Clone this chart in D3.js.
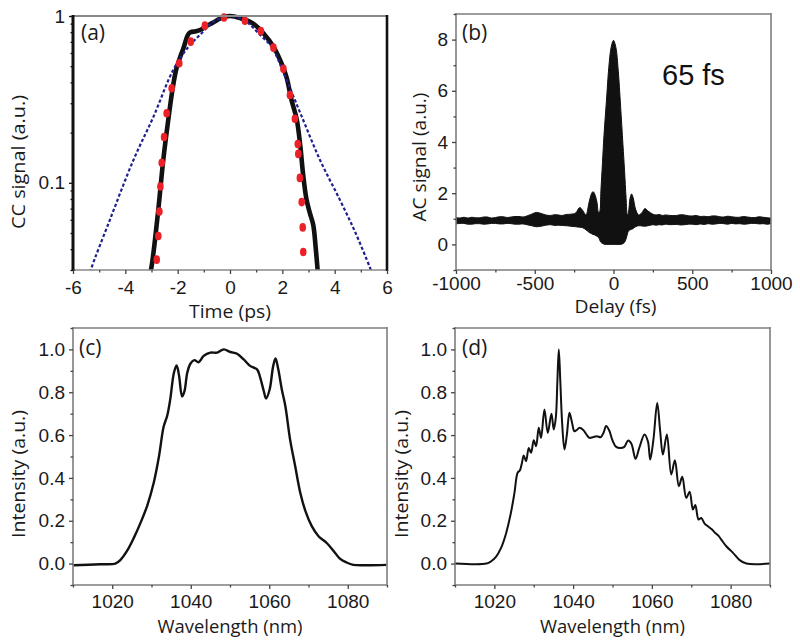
<!DOCTYPE html>
<html><head><meta charset="utf-8">
<script src="https://cdn.jsdelivr.net/npm/d3@7"></script>
<style>
html,body{margin:0;padding:0;background:#fff;}
svg{display:block;}
.title{font-family:"Open Sans",sans-serif;font-size:19px;fill:#1a1a1a;}
.plabel{font-family:"Open Sans",sans-serif;font-size:21px;fill:#1a1a1a;}
</style>
</head><body>
<svg id="chart" width="800" height="644"></svg>
<script>
// ---------- Panel (a): cross-correlation (log scale) ----------
const ccTime = [-3.12,-2.99,-2.87,-2.74,-2.55,-2.36,-2.2,-2.06,-1.9,-1.78,-1.68,-1.6,-1.5,-1.3,-1.1,-0.9,-0.66,-0.35,0,0.4,0.89,1.3,1.66,1.97,2.16,2.35,2.55,2.68,2.8,2.92,3.05,3.18,3.28,3.38];
const ccSignal = [0.025,0.032,0.045,0.069,0.137,0.238,0.36,0.475,0.57,0.64,0.72,0.775,0.8,0.81,0.83,0.87,0.91,0.97,1.0,0.97,0.9,0.78,0.655,0.52,0.43,0.314,0.24,0.17,0.11,0.08,0.066,0.056,0.04,0.026];
const dotTime = [-2.80,-2.74,-2.70,-2.66,-2.61,-2.52,-2.42,-2.23,-1.94,-1.50,-0.96,-0.23,0.57,1.18,1.66,2.04,2.29,2.48,2.59,2.61,2.67,2.74,2.78,2.80];
const dotSignal = [0.0346,0.048,0.0673,0.095,0.132,0.188,0.261,0.369,0.521,0.702,0.875,0.98,0.937,0.813,0.646,0.482,0.336,0.242,0.171,0.149,0.107,0.0766,0.054,0.0385];
const fitTime = [-5.4,-5.29,-4.59,-3.69,-2.92,-2.17,-1.6,-1.15,-0.6,0,0.6,1.15,1.6,2.03,2.74,3.44,4.2,4.8,5.35,5.5];
const fitSignal = [0.027,0.031,0.06,0.137,0.25,0.475,0.65,0.77,0.93,1.0,0.93,0.77,0.65,0.463,0.25,0.137,0.079,0.05,0.031,0.027];
const aXTicks = [-6,-4,-2,0,2,4,6];
const aYTicks = [0.1,1];

// ---------- Panel (b): autocorrelation ----------
const acDelay = [-1000,-975,-950,-925,-900,-875,-850,-825,-800,-775,-750,-725,-700,-675,-650,-625,-600,-575,-550,-520,-490,-460,-430,-400,-375,-350,-325,-300,-270,-240,-215,-195,-175,-155,-140,-130,-120,-105,-95,-88,-80,-70,-60,-45,-30,-15,0,15,30,45,60,70,80,88,95,105,115,125,140,160,180,200,220,250,270,290,310,330,360,400,425,450,475,500,525,550,575,600,625,650,675,700,725,750,775,800,825,850,875,900,925,950,975,1000];
const acUpper = [1.05,1.03,1.06,1.03,1.06,1.04,1.04,1.07,1.07,1.03,1.05,1.08,1.08,1.05,1.07,1.09,1.09,1.07,1.11,1.18,1.25,1.21,1.15,1.13,1.16,1.15,1.13,1.17,1.18,1.23,1.44,1.32,1.15,1.65,1.98,2.06,1.98,1.65,1.25,1.28,2.1,3.2,4.3,5.6,6.9,7.7,7.97,7.7,6.8,5.4,3.9,2.9,1.8,1.15,1.25,1.8,1.97,1.82,1.38,1.15,1.24,1.4,1.3,1.18,1.15,1.17,1.13,1.15,1.13,1.13,1.16,1.15,1.12,1.11,1.13,1.09,1.1,1.08,1.11,1.11,1.08,1.07,1.1,1.08,1.06,1.06,1.09,1.07,1.05,1.05,1.08,1.06,1.04,1.03];
const acLower = [0.8,0.82,0.82,0.79,0.79,0.81,0.81,0.79,0.8,0.82,0.82,0.8,0.8,0.82,0.81,0.79,0.79,0.8,0.77,0.73,0.69,0.71,0.75,0.77,0.74,0.75,0.74,0.73,0.71,0.69,0.67,0.65,0.57,0.47,0.42,0.39,0.37,0.32,0.27,0.18,0.08,0.04,0.01,0.0,0.0,0.0,0.0,0.0,0.0,0.0,0.03,0.08,0.22,0.4,0.52,0.57,0.59,0.62,0.69,0.73,0.72,0.71,0.73,0.77,0.75,0.77,0.76,0.79,0.77,0.78,0.76,0.77,0.79,0.79,0.77,0.8,0.78,0.81,0.79,0.8,0.82,0.81,0.79,0.82,0.8,0.81,0.79,0.8,0.82,0.82,0.8,0.81,0.79,0.81];
const bXTicks = [-1000,-500,0,500,1000];
const bYTicks = [0,2,4,6,8];

// ---------- Panel (c): spectrum ----------
const specCWl = [1010.1,1017,1020.8,1022.1,1023.8,1025.5,1027.2,1028.9,1030.6,1031.9,1033.1,1034,1034.8,1035.7,1036.4,1037,1037.8,1038.4,1039.1,1039.9,1040.9,1042,1043.3,1045,1046.7,1048.4,1050.1,1051.8,1053.5,1055.2,1056.9,1057.7,1058.6,1059.2,1060.1,1061,1061.6,1062.3,1063.2,1064.1,1065.3,1066.6,1067.9,1069.2,1070.8,1072.5,1074.7,1076.4,1078,1079.7,1081.4,1084.8,1089.9];
const specCInt = [-0.008,-0.003,0.0,0.017,0.06,0.12,0.19,0.27,0.38,0.5,0.64,0.69,0.77,0.89,0.925,0.88,0.78,0.805,0.89,0.933,0.95,0.94,0.97,0.985,0.985,1.0,0.988,0.98,0.953,0.922,0.907,0.868,0.806,0.771,0.813,0.922,0.958,0.907,0.813,0.736,0.58,0.456,0.331,0.246,0.176,0.129,0.095,0.059,0.023,0.005,-0.006,-0.008,-0.006];

// ---------- Panel (d): spectrum ----------
const specDWl = [1010,1018,1019.2,1020.4,1021.7,1023,1024.2,1025.1,1025.9,1026.5,1027,1027.46,1028.05,1028.73,1029.32,1030.0,1030.59,1031.27,1031.86,1032.71,1033.56,1034.49,1035.08,1035.6,1036.0,1036.36,1036.75,1037.2,1037.8,1038.4,1039.07,1039.7,1040.34,1041.0,1041.61,1042.5,1043.5,1044.15,1045.0,1046.0,1047.0,1047.7,1048.39,1049.2,1050.0,1050.93,1052.0,1053.0,1053.98,1054.8,1055.85,1056.8,1058.14,1059.0,1059.58,1060.4,1061.36,1062.1,1062.8,1063.81,1064.92,1065.85,1066.86,1067.71,1068.73,1069.58,1070.42,1071.02,1071.86,1072.54,1073.39,1074.24,1075.2,1076.1,1077.0,1077.63,1078.9,1080.6,1082.3,1084,1090];
const specDInt = [0,0,0.011,0.031,0.073,0.143,0.237,0.33,0.424,0.436,0.47,0.505,0.478,0.54,0.517,0.576,0.548,0.634,0.587,0.72,0.61,0.70,0.626,0.68,0.85,1.0,0.85,0.66,0.533,0.6,0.704,0.66,0.618,0.625,0.634,0.625,0.60,0.587,0.59,0.595,0.59,0.61,0.642,0.62,0.575,0.545,0.54,0.545,0.575,0.56,0.489,0.54,0.603,0.57,0.486,0.58,0.75,0.62,0.509,0.603,0.416,0.483,0.361,0.405,0.307,0.335,0.252,0.274,0.206,0.213,0.187,0.174,0.16,0.143,0.128,0.112,0.081,0.05,0.016,0,0];
const cdXTicks = [1020,1040,1060,1080];
const cdYTicks = [0,0.2,0.4,0.6,0.8,1.0];

const svg = d3.select("#chart");
const FRAME = "#7d7d7d", TICK = "#444";
const intFmt = d => String(d);

function clip(id, x0, x1, y0, y1){
  svg.append("clipPath").attr("id", id).append("rect")
    .attr("x", x0).attr("y", y0).attr("width", x1 - x0).attr("height", y1 - y0);
}
function styleAxis(g, col){
  g.select(".domain").remove();
  g.selectAll(".tick line").attr("stroke", col).attr("stroke-width", 1.3);
  g.selectAll(".tick text")
    .style("font-family", '"Liberation Sans", Arial, sans-serif')
    .style("font-size", "19px")
    .style("fill", "#1a1a1a");
}
function frame(x0,x1,y0,y1,opt){
  const o = Object.assign({left:FRAME,right:FRAME,top:FRAME,bottom:FRAME,lw:1.6,rw:1.6,tw:1.6,bw:1.6}, opt||{});
  svg.append("line").attr("x1",x0).attr("x2",x1).attr("y1",y0).attr("y2",y0).attr("stroke",o.top).attr("stroke-width",o.tw);
  svg.append("line").attr("x1",x0).attr("x2",x1).attr("y1",y1).attr("y2",y1).attr("stroke",o.bottom).attr("stroke-width",o.bw);
  svg.append("line").attr("x1",x0).attr("x2",x0).attr("y1",y0-1).attr("y2",y1+1).attr("stroke",o.left).attr("stroke-width",o.lw);
  svg.append("line").attr("x1",x1).attr("x2",x1).attr("y1",y0-1).attr("y2",y1+1).attr("stroke",o.right).attr("stroke-width",o.rw);
}
function linearAxes(x, y, xT, xMinor, yT, yMinor, x0, x1, y0, y1, xFmt, yFmt, xPad){
  const gx = svg.append("g").attr("transform", `translate(0,${y1})`)
    .call(d3.axisBottom(x).tickValues(xT).tickSize(4).tickPadding(xPad).tickFormat(xFmt));
  styleAxis(gx, TICK);
  const gxm = svg.append("g").attr("transform", `translate(0,${y1})`)
    .call(d3.axisBottom(x).tickValues(xMinor).tickSize(2.5).tickFormat(""));
  styleAxis(gxm, TICK);
  const gy = svg.append("g").attr("transform", `translate(${x0},0)`)
    .call(d3.axisLeft(y).tickValues(yT).tickSize(4).tickPadding(4).tickFormat(yFmt));
  styleAxis(gy, TICK);
  const gym = svg.append("g").attr("transform", `translate(${x0},0)`)
    .call(d3.axisLeft(y).tickValues(yMinor).tickSize(2.5).tickFormat(""));
  styleAxis(gym, TICK);
}
function title(txt, x, y, rot, len){
  const t = svg.append("text").attr("class","title").attr("text-anchor","middle").text(txt)
    .attr("textLength", len).attr("lengthAdjust","spacingAndGlyphs");
  if (rot) t.attr("transform", `translate(${x},${y}) rotate(-90)`);
  else t.attr("x", x).attr("y", y);
}
function plabel(txt, x, y){
  svg.append("text").attr("class","plabel").attr("x",x).attr("y",y).text(txt);
}

// ===== Panel (a) =====
{
  const x0=73,x1=387,y0=16,y1=270;
  const x = d3.scaleLinear().domain([-6,6]).range([x0,x1]);
  const y = d3.scaleLog().domain([0.03,1]).range([y1,y0]);
  clip("ca", x0, x1, y0-6, y1);
  const g = svg.append("g").attr("clip-path","url(#ca)");
  const fit = fitTime.map((t,i)=>[t,fitSignal[i]]);
  const cc = ccTime.map((t,i)=>[t,ccSignal[i]]);
  g.append("path").datum(cc).attr("fill","none").attr("stroke","#111").attr("stroke-width",4.6)
    .attr("stroke-linejoin","round")
    .attr("d", d3.line().x(d=>x(d[0])).y(d=>y(d[1])).curve(d3.curveCatmullRom));
  g.append("path").datum(fit).attr("fill","none").attr("stroke","#1f1f8f").attr("stroke-width",2.2)
    .attr("stroke-dasharray","3.2,2.2")
    .attr("d", d3.line().x(d=>x(d[0])).y(d=>y(d[1])).curve(d3.curveCatmullRom));
  g.selectAll("ellipse").data(dotTime.map((t,i)=>[t,dotSignal[i]])).join("ellipse")
    .attr("cx", d=>x(d[0])).attr("cy", d=>y(d[1])).attr("rx",3.3).attr("ry",4.3).attr("fill","#ec2027");
  frame(x0,x1,y0,y1,{left:"#111",lw:3,right:"#111",rw:2.6,top:"#8a8a8a",tw:2,bottom:"#8a8a8a",bw:1.6});
  const gx = svg.append("g").attr("transform",`translate(0,${y1})`)
    .call(d3.axisBottom(x).tickValues(aXTicks).tickSize(4).tickPadding(7).tickFormat(intFmt));
  styleAxis(gx, TICK);
  const gxm = svg.append("g").attr("transform",`translate(0,${y1})`)
    .call(d3.axisBottom(x).tickValues([-5,-3,-1,1,3,5]).tickSize(2.5).tickFormat(""));
  styleAxis(gxm, TICK);
  const gy = svg.append("g").attr("transform",`translate(${x0},0)`)
    .call(d3.axisLeft(y).tickValues(aYTicks).tickSize(4).tickPadding(4).tickFormat(d=> d===1?"1":"0.1"));
  styleAxis(gy, "#111");
  const minor = [0.03,0.04,0.05,0.06,0.07,0.08,0.09,0.2,0.3,0.4,0.5,0.6,0.7,0.8,0.9];
  const gym = svg.append("g").attr("transform",`translate(${x0},0)`)
    .call(d3.axisLeft(y).tickValues(minor).tickSize(2.5).tickFormat(""));
  styleAxis(gym, "#111");
  title("CC signal (a.u.)", 25, 162, true, 134);
  title("Time (ps)", (x0+x1)/2, 318, false, 82);
  plabel("(a)", 81, 40);
}

// ===== Panel (b) =====
{
  const x0=456,x1=771,y0=14,y1=270;
  const x = d3.scaleLinear().domain([-1000,1000]).range([x0,x1]);
  const y = d3.scaleLinear().domain([-1,9]).range([y1,y0]);
  clip("cb", x0, x1, y0, y1);
  const g = svg.append("g").attr("clip-path","url(#cb)");
  const data = acDelay.map((d,i)=>({d, u:acUpper[i], l:acLower[i]}));
  g.append("path").datum(data).attr("fill","#111").attr("stroke","#111").attr("stroke-width",1)
    .attr("d", d3.area().x(p=>x(p.d)).y0(p=>y(p.l)).y1(p=>y(p.u)).curve(d3.curveCatmullRom));
  frame(x0,x1,y0,y1);
  linearAxes(x, y, bXTicks, [-750,-250,250,750], bYTicks, [-1,1,3,5,7,9], x0,x1,y0,y1, intFmt, intFmt, 3);
  svg.append("text").attr("x",662).attr("y",85)
    .style("font-family",'"Liberation Sans",Arial,sans-serif').style("font-size","29px").attr("fill","#111")
    .text("65 fs");
  title("AC signal (a.u.)", 426, 157, true, 129);
  title("Delay (fs)", (x0+x1)/2 + 2, 313, false, 82);
  plabel("(b)", 462, 40);
}

// ===== Panels (c) and (d) =====
function spectrum(id, x0, x1, wl, inten, lab, labX, ytx, lw){
  const y0=328, y1=585;
  const x = d3.scaleLinear().domain([1010,1090]).range([x0,x1]);
  const y = d3.scaleLinear().domain([-0.1,1.1]).range([y1,y0]);
  clip(id, x0, x1, y0, y1);
  const g = svg.append("g").attr("clip-path",`url(#${id})`);
  g.append("path").datum(wl.map((w,i)=>[w,inten[i]])).attr("fill","none").attr("stroke","#111")
    .attr("stroke-width",lw).attr("stroke-linejoin","round")
    .attr("d", d3.line().x(d=>x(d[0])).y(d=>y(d[1])).curve(d3.curveCatmullRom));
  frame(x0,x1,y0,y1);
  linearAxes(x, y, cdXTicks, [1010,1030,1050,1070,1090], cdYTicks, [-0.1,0.1,0.3,0.5,0.7,0.9,1.1], x0,x1,y0,y1, intFmt, d3.format(".1f"), 6);
  title("Intensity (a.u.)", ytx, 474, true, 128);
  title("Wavelength (nm)", (x0+x1)/2, 633, false, 145);
  plabel(lab, labX, 355);
}
spectrum("cc", 73, 387, specCWl, specCInt, "(c)", 79, 25, 2.4);
spectrum("cd", 455, 770, specDWl, specDInt, "(d)", 462, 408, 2.0);
</script>
</body></html>
